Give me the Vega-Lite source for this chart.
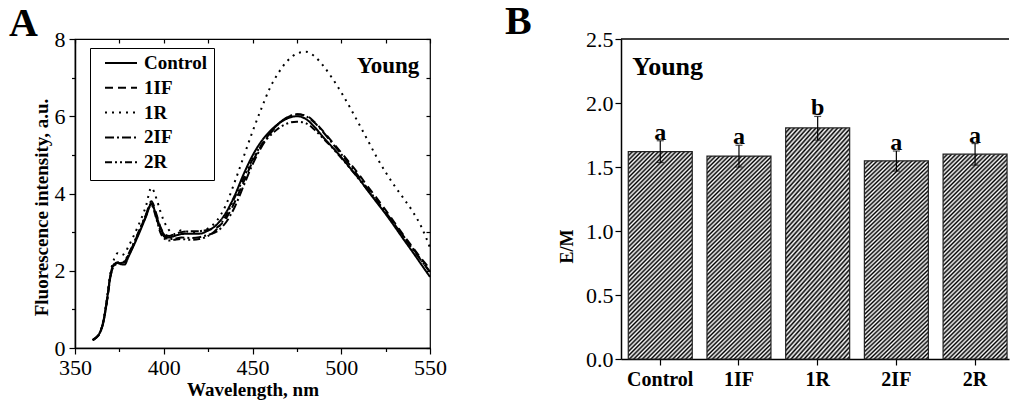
{
"$schema":"https://vega.github.io/schema/vega-lite/v6.json",
"padding":{"left":8,"top":2,"right":0,"bottom":0},
"spacing":57,
"config":{
 "font":"Liberation Serif",
 "axis":{"labelFont":"Liberation Serif","labelFontSize":22,"labelColor":"black","titleFont":"Liberation Serif","titleFontSize":19,"titleFontWeight":"bold","titleColor":"black","domainColor":"black","domainWidth":1.5,"tickColor":"black","tickWidth":1.2,"grid":false},
 "title":{"font":"Liberation Serif","fontSize":40,"fontWeight":"bold","color":"black","anchor":"start","frame":"group","baseline":"alphabetic","offset":0},
 "text":{"font":"Liberation Serif","color":"black"}
},
"hconcat":[
{
 "width":355,"height":309,
 "title":{"text":"A","dx":-66,"dy":20},
 "view":{"stroke":"black","strokeWidth":1.2},
 "resolve":{"axis":{"x":"independent","y":"independent"}},
 "layer":[
 {
  "data":{"values":[
{"s":"Control","w":360,"v":0.22},{"s":"Control","w":362,"v":0.28},{"s":"Control","w":364,"v":0.4},{"s":"Control","w":366,"v":0.7},{"s":"Control","w":368,"v":1.25},{"s":"Control","w":370,"v":1.9},{"s":"Control","w":372,"v":2.17},{"s":"Control","w":374,"v":2.2},{"s":"Control","w":376,"v":2.17},{"s":"Control","w":378,"v":2.16},{"s":"Control","w":380,"v":2.35},{"s":"Control","w":385,"v":2.85},{"s":"Control","w":390,"v":3.4},{"s":"Control","w":393,"v":3.73},{"s":"Control","w":396,"v":3.4},{"s":"Control","w":398,"v":3.12},{"s":"Control","w":400,"v":2.95},{"s":"Control","w":403,"v":2.86},{"s":"Control","w":406,"v":2.9},{"s":"Control","w":410,"v":2.95},{"s":"Control","w":415,"v":2.96},{"s":"Control","w":420,"v":2.96},{"s":"Control","w":425,"v":3.04},{"s":"Control","w":430,"v":3.2},{"s":"Control","w":435,"v":3.5},{"s":"Control","w":440,"v":3.95},{"s":"Control","w":445,"v":4.5},{"s":"Control","w":450,"v":4.98},{"s":"Control","w":455,"v":5.35},{"s":"Control","w":460,"v":5.62},{"s":"Control","w":465,"v":5.82},{"s":"Control","w":470,"v":5.95},{"s":"Control","w":475,"v":6.0},{"s":"Control","w":480,"v":5.93},{"s":"Control","w":485,"v":5.72},{"s":"Control","w":490,"v":5.45},{"s":"Control","w":495,"v":5.2},{"s":"Control","w":500,"v":4.94},{"s":"Control","w":505,"v":4.66},{"s":"Control","w":510,"v":4.38},{"s":"Control","w":515,"v":4.07},{"s":"Control","w":520,"v":3.77},{"s":"Control","w":525,"v":3.47},{"s":"Control","w":530,"v":3.15},{"s":"Control","w":535,"v":2.82},{"s":"Control","w":540,"v":2.5},{"s":"Control","w":545,"v":2.17},{"s":"Control","w":550,"v":1.84},
{"s":"1IF","w":360,"v":0.2},{"s":"1IF","w":362,"v":0.27},{"s":"1IF","w":364,"v":0.38},{"s":"1IF","w":366,"v":0.67},{"s":"1IF","w":368,"v":1.2},{"s":"1IF","w":370,"v":1.85},{"s":"1IF","w":372,"v":2.15},{"s":"1IF","w":374,"v":2.22},{"s":"1IF","w":376,"v":2.22},{"s":"1IF","w":378,"v":2.24},{"s":"1IF","w":380,"v":2.4},{"s":"1IF","w":385,"v":2.9},{"s":"1IF","w":390,"v":3.45},{"s":"1IF","w":393,"v":3.8},{"s":"1IF","w":396,"v":3.45},{"s":"1IF","w":398,"v":3.15},{"s":"1IF","w":400,"v":2.98},{"s":"1IF","w":403,"v":2.9},{"s":"1IF","w":406,"v":2.95},{"s":"1IF","w":410,"v":3.0},{"s":"1IF","w":415,"v":3.02},{"s":"1IF","w":420,"v":3.02},{"s":"1IF","w":425,"v":3.06},{"s":"1IF","w":430,"v":3.12},{"s":"1IF","w":435,"v":3.35},{"s":"1IF","w":440,"v":3.78},{"s":"1IF","w":445,"v":4.3},{"s":"1IF","w":450,"v":4.82},{"s":"1IF","w":455,"v":5.25},{"s":"1IF","w":460,"v":5.57},{"s":"1IF","w":465,"v":5.82},{"s":"1IF","w":470,"v":5.98},{"s":"1IF","w":475,"v":6.05},{"s":"1IF","w":480,"v":6.02},{"s":"1IF","w":485,"v":5.85},{"s":"1IF","w":490,"v":5.6},{"s":"1IF","w":495,"v":5.33},{"s":"1IF","w":500,"v":5.06},{"s":"1IF","w":505,"v":4.78},{"s":"1IF","w":510,"v":4.49},{"s":"1IF","w":515,"v":4.18},{"s":"1IF","w":520,"v":3.88},{"s":"1IF","w":525,"v":3.57},{"s":"1IF","w":530,"v":3.25},{"s":"1IF","w":535,"v":2.93},{"s":"1IF","w":540,"v":2.62},{"s":"1IF","w":545,"v":2.32},{"s":"1IF","w":550,"v":2.05},
{"s":"1R","w":360,"v":0.2},{"s":"1R","w":362,"v":0.28},{"s":"1R","w":364,"v":0.4},{"s":"1R","w":366,"v":0.72},{"s":"1R","w":368,"v":1.3},{"s":"1R","w":370,"v":1.95},{"s":"1R","w":372,"v":2.3},{"s":"1R","w":374,"v":2.45},{"s":"1R","w":376,"v":2.4},{"s":"1R","w":378,"v":2.45},{"s":"1R","w":380,"v":2.62},{"s":"1R","w":385,"v":3.1},{"s":"1R","w":390,"v":3.68},{"s":"1R","w":393,"v":4.15},{"s":"1R","w":396,"v":3.85},{"s":"1R","w":398,"v":3.55},{"s":"1R","w":400,"v":3.3},{"s":"1R","w":403,"v":3.05},{"s":"1R","w":406,"v":2.95},{"s":"1R","w":410,"v":3.05},{"s":"1R","w":415,"v":3.0},{"s":"1R","w":420,"v":3.02},{"s":"1R","w":425,"v":3.1},{"s":"1R","w":430,"v":3.3},{"s":"1R","w":435,"v":3.7},{"s":"1R","w":440,"v":4.3},{"s":"1R","w":445,"v":4.95},{"s":"1R","w":450,"v":5.6},{"s":"1R","w":455,"v":6.2},{"s":"1R","w":460,"v":6.75},{"s":"1R","w":465,"v":7.15},{"s":"1R","w":470,"v":7.45},{"s":"1R","w":475,"v":7.62},{"s":"1R","w":480,"v":7.67},{"s":"1R","w":485,"v":7.55},{"s":"1R","w":490,"v":7.3},{"s":"1R","w":495,"v":6.98},{"s":"1R","w":500,"v":6.62},{"s":"1R","w":505,"v":6.22},{"s":"1R","w":510,"v":5.8},{"s":"1R","w":515,"v":5.37},{"s":"1R","w":520,"v":4.94},{"s":"1R","w":525,"v":4.55},{"s":"1R","w":530,"v":4.2},{"s":"1R","w":535,"v":3.88},{"s":"1R","w":540,"v":3.55},{"s":"1R","w":545,"v":3.15},{"s":"1R","w":550,"v":2.6},
{"s":"2IF","w":360,"v":0.2},{"s":"2IF","w":362,"v":0.27},{"s":"2IF","w":364,"v":0.38},{"s":"2IF","w":366,"v":0.67},{"s":"2IF","w":368,"v":1.2},{"s":"2IF","w":370,"v":1.85},{"s":"2IF","w":372,"v":2.13},{"s":"2IF","w":374,"v":2.18},{"s":"2IF","w":376,"v":2.2},{"s":"2IF","w":378,"v":2.22},{"s":"2IF","w":380,"v":2.38},{"s":"2IF","w":385,"v":2.88},{"s":"2IF","w":390,"v":3.42},{"s":"2IF","w":393,"v":3.75},{"s":"2IF","w":396,"v":3.35},{"s":"2IF","w":398,"v":3.05},{"s":"2IF","w":400,"v":2.9},{"s":"2IF","w":403,"v":2.82},{"s":"2IF","w":406,"v":2.83},{"s":"2IF","w":410,"v":2.86},{"s":"2IF","w":415,"v":2.85},{"s":"2IF","w":420,"v":2.87},{"s":"2IF","w":425,"v":2.93},{"s":"2IF","w":430,"v":3.02},{"s":"2IF","w":435,"v":3.25},{"s":"2IF","w":440,"v":3.65},{"s":"2IF","w":445,"v":4.2},{"s":"2IF","w":450,"v":4.75},{"s":"2IF","w":455,"v":5.2},{"s":"2IF","w":460,"v":5.55},{"s":"2IF","w":465,"v":5.82},{"s":"2IF","w":470,"v":5.98},{"s":"2IF","w":475,"v":6.05},{"s":"2IF","w":480,"v":6.0},{"s":"2IF","w":485,"v":5.83},{"s":"2IF","w":490,"v":5.58},{"s":"2IF","w":495,"v":5.3},{"s":"2IF","w":500,"v":5.02},{"s":"2IF","w":505,"v":4.73},{"s":"2IF","w":510,"v":4.43},{"s":"2IF","w":515,"v":4.12},{"s":"2IF","w":520,"v":3.82},{"s":"2IF","w":525,"v":3.52},{"s":"2IF","w":530,"v":3.2},{"s":"2IF","w":535,"v":2.89},{"s":"2IF","w":540,"v":2.57},{"s":"2IF","w":545,"v":2.27},{"s":"2IF","w":550,"v":1.98},
{"s":"2R","w":360,"v":0.2},{"s":"2R","w":362,"v":0.27},{"s":"2R","w":364,"v":0.39},{"s":"2R","w":366,"v":0.68},{"s":"2R","w":368,"v":1.22},{"s":"2R","w":370,"v":1.88},{"s":"2R","w":372,"v":2.15},{"s":"2R","w":374,"v":2.2},{"s":"2R","w":376,"v":2.2},{"s":"2R","w":378,"v":2.25},{"s":"2R","w":380,"v":2.42},{"s":"2R","w":385,"v":2.92},{"s":"2R","w":390,"v":3.45},{"s":"2R","w":393,"v":3.7},{"s":"2R","w":396,"v":3.32},{"s":"2R","w":398,"v":3.0},{"s":"2R","w":400,"v":2.85},{"s":"2R","w":403,"v":2.78},{"s":"2R","w":406,"v":2.8},{"s":"2R","w":410,"v":2.82},{"s":"2R","w":415,"v":2.8},{"s":"2R","w":420,"v":2.82},{"s":"2R","w":425,"v":2.9},{"s":"2R","w":430,"v":3.08},{"s":"2R","w":435,"v":3.42},{"s":"2R","w":440,"v":3.9},{"s":"2R","w":445,"v":4.4},{"s":"2R","w":450,"v":4.88},{"s":"2R","w":455,"v":5.25},{"s":"2R","w":460,"v":5.5},{"s":"2R","w":465,"v":5.7},{"s":"2R","w":470,"v":5.82},{"s":"2R","w":475,"v":5.86},{"s":"2R","w":480,"v":5.82},{"s":"2R","w":485,"v":5.65},{"s":"2R","w":490,"v":5.42},{"s":"2R","w":495,"v":5.18},{"s":"2R","w":500,"v":4.92},{"s":"2R","w":505,"v":4.65},{"s":"2R","w":510,"v":4.37},{"s":"2R","w":515,"v":4.08},{"s":"2R","w":520,"v":3.79},{"s":"2R","w":525,"v":3.5},{"s":"2R","w":530,"v":3.2},{"s":"2R","w":535,"v":2.9},{"s":"2R","w":540,"v":2.6},{"s":"2R","w":545,"v":2.28},{"s":"2R","w":550,"v":1.95}
  ]},
  "mark":{"type":"line","color":"black","strokeWidth":2,"interpolate":"monotone"},
  "encoding":{
   "x":{"field":"w","type":"quantitative","scale":{"domain":[350,550],"nice":false,"zero":false},
    "axis":{"orient":"bottom","title":"Wavelength, nm","values":[350,375,400,425,450,475,500,525,550],"labelExpr":"datum.value % 50 === 0 ? datum.label : ''","tickSize":{"condition":{"test":"datum.value % 50 === 0","value":6},"value":3.5},"labelPadding":3,"titlePadding":2,"labelFlush":false,"labelOverlap":false}},
   "y":{"field":"v","type":"quantitative","scale":{"domain":[0,8],"nice":false},
    "axis":{"orient":"left","title":"Fluorescence intensity, a.u.","values":[0,1,2,3,4,5,6,7,8],"labelExpr":"datum.value % 2 === 0 ? datum.label : ''","tickSize":{"condition":{"test":"datum.value % 2 === 0","value":6},"value":3.5},"labelPadding":4,"titleX":-34,"titleY":168,"titleBaseline":"middle","titleAngle":-90,"titleAlign":"center","labelFlush":false,"labelOverlap":false}},
   "strokeDash":{"field":"s","type":"nominal","scale":{"domain":["Control","1IF","1R","2IF","2R"],"range":[[1,0],[8,5],[2,5],[9,3,2,3],[7,3,2,3,2,3]]},
    "legend":{"orient":"none","legendX":15,"legendY":9,"title":null,"symbolType":"stroke","symbolStrokeColor":"black","symbolStrokeWidth":2,"symbolSize":1024,"symbolOffset":7,"labelFont":"Liberation Serif","labelFontSize":19,"labelFontWeight":"bold","labelColor":"black","labelOffset":6,"strokeColor":"black","fillColor":"white","padding":7,"rowPadding":5.8,"clipHeight":16}}
  }
 },
 {
  "data":{"values":[{"label":"Young"}]},
  "mark":{"type":"text","fontSize":23,"fontWeight":"bold","align":"right","baseline":"alphabetic"},
  "encoding":{
   "x":{"datum":544,"type":"quantitative","axis":{"orient":"top","values":[350,375,400,425,450,475,500,525,550],"labels":false,"domain":false,"tickSize":-4,"title":null}},
   "y":{"datum":7.13,"type":"quantitative","axis":{"orient":"right","values":[0,1,2,3,4,5,6,7,8],"labels":false,"domain":false,"tickSize":-4,"title":null}},
   "text":{"field":"label"}
  }
 }
 ]
},
{
 "width":388,"height":320,
 "title":{"text":"B","dx":-116,"dy":18},
 "view":{"stroke":null},
 "data":{"values":[
  {"g":"Control","m":1.62,"lo":1.535,"hi":1.705,"l":"a"},
  {"g":"1IF","m":1.585,"lo":1.5,"hi":1.67,"l":"a"},
  {"g":"1R","m":1.805,"lo":1.71,"hi":1.895,"l":"b"},
  {"g":"2IF","m":1.548,"lo":1.468,"hi":1.625,"l":"a"},
  {"g":"2R","m":1.6,"lo":1.515,"hi":1.683,"l":"a"}
 ]},
 "layer":[
 {
  "mark":{"type":"bar","stroke":"#222","strokeWidth":1.2,"fill":{"gradient":"linear","x1":0,"y1":0,"x2":0.37,"y2":1.195,"stops":[
{"offset":0,"color":"#000"},{"offset":0.008,"color":"#fff"},{"offset":0.016,"color":"#000"},{"offset":0.024,"color":"#fff"},{"offset":0.032,"color":"#000"},{"offset":0.04,"color":"#fff"},{"offset":0.048,"color":"#000"},{"offset":0.056,"color":"#fff"},{"offset":0.064,"color":"#000"},{"offset":0.072,"color":"#fff"},
{"offset":0.08,"color":"#000"},{"offset":0.088,"color":"#fff"},{"offset":0.096,"color":"#000"},{"offset":0.104,"color":"#fff"},{"offset":0.112,"color":"#000"},{"offset":0.12,"color":"#fff"},{"offset":0.128,"color":"#000"},{"offset":0.136,"color":"#fff"},{"offset":0.144,"color":"#000"},{"offset":0.152,"color":"#fff"},
{"offset":0.16,"color":"#000"},{"offset":0.168,"color":"#fff"},{"offset":0.176,"color":"#000"},{"offset":0.184,"color":"#fff"},{"offset":0.192,"color":"#000"},{"offset":0.2,"color":"#fff"},{"offset":0.208,"color":"#000"},{"offset":0.216,"color":"#fff"},{"offset":0.224,"color":"#000"},{"offset":0.232,"color":"#fff"},
{"offset":0.24,"color":"#000"},{"offset":0.248,"color":"#fff"},{"offset":0.256,"color":"#000"},{"offset":0.264,"color":"#fff"},{"offset":0.272,"color":"#000"},{"offset":0.28,"color":"#fff"},{"offset":0.288,"color":"#000"},{"offset":0.296,"color":"#fff"},{"offset":0.304,"color":"#000"},{"offset":0.312,"color":"#fff"},
{"offset":0.32,"color":"#000"},{"offset":0.328,"color":"#fff"},{"offset":0.336,"color":"#000"},{"offset":0.344,"color":"#fff"},{"offset":0.352,"color":"#000"},{"offset":0.36,"color":"#fff"},{"offset":0.368,"color":"#000"},{"offset":0.376,"color":"#fff"},{"offset":0.384,"color":"#000"},{"offset":0.392,"color":"#fff"},
{"offset":0.4,"color":"#000"},{"offset":0.408,"color":"#fff"},{"offset":0.416,"color":"#000"},{"offset":0.424,"color":"#fff"},{"offset":0.432,"color":"#000"},{"offset":0.44,"color":"#fff"},{"offset":0.448,"color":"#000"},{"offset":0.456,"color":"#fff"},{"offset":0.464,"color":"#000"},{"offset":0.472,"color":"#fff"},
{"offset":0.48,"color":"#000"},{"offset":0.488,"color":"#fff"},{"offset":0.496,"color":"#000"},{"offset":0.504,"color":"#fff"},{"offset":0.512,"color":"#000"},{"offset":0.52,"color":"#fff"},{"offset":0.528,"color":"#000"},{"offset":0.536,"color":"#fff"},{"offset":0.544,"color":"#000"},{"offset":0.552,"color":"#fff"},
{"offset":0.56,"color":"#000"},{"offset":0.568,"color":"#fff"},{"offset":0.576,"color":"#000"},{"offset":0.584,"color":"#fff"},{"offset":0.592,"color":"#000"},{"offset":0.6,"color":"#fff"},{"offset":0.608,"color":"#000"},{"offset":0.616,"color":"#fff"},{"offset":0.624,"color":"#000"},{"offset":0.632,"color":"#fff"},
{"offset":0.64,"color":"#000"},{"offset":0.648,"color":"#fff"},{"offset":0.656,"color":"#000"},{"offset":0.664,"color":"#fff"},{"offset":0.672,"color":"#000"},{"offset":0.68,"color":"#fff"},{"offset":0.688,"color":"#000"},{"offset":0.696,"color":"#fff"},{"offset":0.704,"color":"#000"},{"offset":0.712,"color":"#fff"},
{"offset":0.72,"color":"#000"},{"offset":0.728,"color":"#fff"},{"offset":0.736,"color":"#000"},{"offset":0.744,"color":"#fff"},{"offset":0.752,"color":"#000"},{"offset":0.76,"color":"#fff"},{"offset":0.768,"color":"#000"},{"offset":0.776,"color":"#fff"},{"offset":0.784,"color":"#000"},{"offset":0.792,"color":"#fff"},
{"offset":0.8,"color":"#000"},{"offset":0.808,"color":"#fff"},{"offset":0.816,"color":"#000"},{"offset":0.824,"color":"#fff"},{"offset":0.832,"color":"#000"},{"offset":0.84,"color":"#fff"},{"offset":0.848,"color":"#000"},{"offset":0.856,"color":"#fff"},{"offset":0.864,"color":"#000"},{"offset":0.872,"color":"#fff"},
{"offset":0.88,"color":"#000"},{"offset":0.888,"color":"#fff"},{"offset":0.896,"color":"#000"},{"offset":0.904,"color":"#fff"},{"offset":0.912,"color":"#000"},{"offset":0.92,"color":"#fff"},{"offset":0.928,"color":"#000"},{"offset":0.936,"color":"#fff"},{"offset":0.944,"color":"#000"},{"offset":0.952,"color":"#fff"},
{"offset":0.96,"color":"#000"},{"offset":0.968,"color":"#fff"},{"offset":0.976,"color":"#000"},{"offset":0.984,"color":"#fff"},{"offset":0.992,"color":"#000"},{"offset":1,"color":"#fff"}
  ]}},
  "encoding":{
   "x":{"field":"g","type":"nominal","sort":null,"scale":{"paddingInner":0.187,"paddingOuter":0.0585,"align":0.79},"axis":{"title":null,"labelAngle":0,"labelFontWeight":"bold","labelFontSize":20,"tickSize":6,"labelPadding":4}},
   "y":{"field":"m","type":"quantitative","scale":{"domain":[0,2.5],"nice":false},
    "axis":{"title":"E/M","values":[0,0.25,0.5,0.75,1,1.25,1.5,1.75,2,2.25,2.5],"format":".1f","labelExpr":"datum.value % 0.5 === 0 ? datum.label : ''","tickSize":{"condition":{"test":"datum.value % 0.5 === 0","value":6},"value":3.5},"labelPadding":2,"titleX":-54,"titleY":207,"titleBaseline":"middle","titleAngle":-90,"titleAlign":"center","titleFontSize":18,"labelFlush":false,"labelOverlap":false}}
  }
 },
 {
  "mark":{"type":"rule","color":"black","strokeWidth":1.2},
  "encoding":{"x":{"field":"g","type":"nominal","sort":null},"y":{"field":"lo","type":"quantitative"},"y2":{"field":"hi"}}
 },
 {
  "mark":{"type":"tick","color":"black","thickness":1.2,"size":7},
  "encoding":{"x":{"field":"g","type":"nominal","sort":null},"y":{"field":"lo","type":"quantitative"}}
 },
 {
  "mark":{"type":"tick","color":"black","thickness":1.2,"size":7},
  "encoding":{"x":{"field":"g","type":"nominal","sort":null},"y":{"field":"hi","type":"quantitative"}}
 },
 {
  "mark":{"type":"text","fontSize":24,"fontWeight":"bold","baseline":"alphabetic","dy":-1},
  "encoding":{"x":{"field":"g","type":"nominal","sort":null},"y":{"field":"hi","type":"quantitative"},"text":{"field":"l"}}
 },
 {
  "data":{"values":[{"label":"Young"}]},
  "mark":{"type":"text","fontSize":26,"fontWeight":"bold","align":"left","baseline":"alphabetic","dx":-28},
  "encoding":{"x":{"datum":"Control","type":"nominal"},"y":{"datum":2.22,"type":"quantitative"},"text":{"field":"label"}}
 },
 {
  "data":{"values":[{"label":"top"}]},
  "mark":{"type":"rule","color":"black","strokeWidth":1.5},
  "encoding":{"y":{"datum":2.5,"type":"quantitative"}}
 }
 ]
}
]
}
